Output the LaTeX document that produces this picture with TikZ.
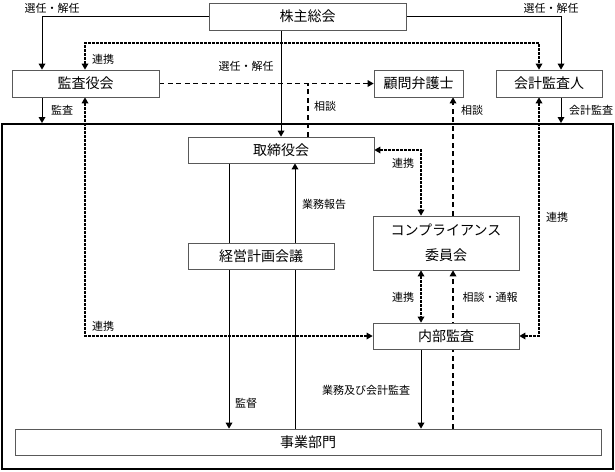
\documentclass[tikz,border=0pt]{standalone}
\usepackage{fontspec}
\newfontfamily\jp{Noto Sans CJK JP}
\usetikzlibrary{arrows.meta,backgrounds}
\begin{document}
\begin{tikzpicture}[x=1pt,y=-1pt,
  box/.style={draw=black!65, line width=0.8pt, fill=white, inner sep=0pt, font=\jp\fontsize{14}{16}\selectfont},
  lbl/.style={inner sep=0pt, font=\jp\fontsize{11}{13}\selectfont},
  solidline/.style={line width=1pt},
  dashline/.style={line width=1.4pt, dash pattern=on 5pt off 3.5pt},
  dotline/.style={line width=2.4pt, dash pattern=on 2.2pt off 1.8pt},
  both/.style={{Triangle[width=7pt,length=6pt,line width=0pt]}-{Triangle[width=7pt,length=6pt,line width=0pt]}},
  one/.style={-{Triangle[width=7pt,length=6pt,line width=0pt]}}]
\useasboundingbox (0,0) rectangle (615,471);
% column / row helpers
\coordinate (cA) at (42,0);
\coordinate (cB) at (85,0);
\coordinate (cC) at (229,0);
\coordinate (cD) at (281,0);
\coordinate (cE) at (295,0);
\coordinate (cF) at (308,0);
\coordinate (cG) at (421,0);
\coordinate (cH) at (453,0);
\coordinate (cI) at (539,0);
\coordinate (cJ) at (561,0);
\coordinate (r43) at (0,43);
% frame
\node[draw, line width=2pt, minimum width=611pt, minimum height=345pt, inner sep=0pt] (frame) at (307.5,296.5) {};
% boxes
\node[box, minimum width=197pt, minimum height=27pt] (kabu) at (307.5,16.5) {株主総会};
\node[box, minimum width=147pt, minimum height=27pt] (kansa) at (85.5,83.5) {監査役会};
\node[box, minimum width=89pt, minimum height=27pt] (bengo) at (418.5,83.5) {顧問弁護士};
\node[box, minimum width=106pt, minimum height=27pt] (kaikei) at (549,83.5) {会計監査人};
\node[box, minimum width=186pt, minimum height=26pt] (tori) at (281,150) {取締役会};
\node[box, minimum width=146pt, minimum height=26pt] (keiei) at (261,256) {経営計画会議};
\node[box, minimum width=146pt, minimum height=54pt, align=center, font=\jp\fontsize{14}{25}\selectfont] (comp) at (446,243) {コンプライアンス\\委員会};
\node[box, minimum width=146pt, minimum height=26pt] (naibu) at (446,336) {内部監査};
\node[box, minimum width=586pt, minimum height=26pt] (jigyo) at (308,442) {事業部門};
% labels
\node[lbl] (l1) at (52,8) {選任・解任};
\node[lbl] (l2) at (551,8) {選任・解任};
\node[lbl] (l3) at (246,66) {選任・解任};
\node[lbl] (l4) at (103,59) {連携};
\node[lbl] (l5) at (62,110) {監査};
\node[lbl] (l6) at (325,106) {相談};
\node[lbl] (l7) at (472,110) {相談};
\node[lbl] (l8) at (591,110) {会計監査};
\node[lbl] (l9) at (403,163) {連携};
\node[lbl] (l10) at (324,204) {業務報告};
\node[lbl] (l11) at (557,217) {連携};
\node[lbl] (l12) at (403,297) {連携};
\node[lbl] (l13) at (490,297) {相談・通報};
\node[lbl] (l14) at (103,326) {連携};
\node[lbl] (l15) at (366,390) {業務及び会計監査};
\node[lbl] (l16) at (246,403) {監督};
% connectors
\begin{scope}[on background layer]
\draw[solidline, one] (kabu.west) -| (kansa.north -| cA);
\draw[solidline, one] (kabu.east) -| (kaikei.north -| cJ);
\draw[solidline, one] (kabu.south -| cD) -- (tori.north -| cD);
\draw[solidline, one] (kansa.south -| cA) -- (frame.north -| cA);
\draw[solidline, one] (kaikei.south -| cJ) -- (frame.north -| cJ);
\draw[solidline, one] (tori.south -| cC) -- (jigyo.north -| cC);
\draw[solidline, one] (jigyo.north -| cE) -- (tori.south -| cE);
\draw[solidline, one] (naibu.south -| cG) -- (jigyo.north -| cG);
\draw[dotline, both] (kansa.north -| cB) -- (cB |- r43) -- (cI |- r43) -- (kaikei.north -| cI);
\draw[dotline, both] (tori.east) -| (comp.north -| cG);
\draw[dotline, both] (comp.south -| cG) -- (naibu.north -| cG);
\draw[dotline, both] (kansa.south -| cB) |- (naibu.west);
\draw[dotline, both] (kaikei.south -| cI) |- (naibu.east);
\draw[dashline, one] (kansa.east) -- (bengo.west);
\draw[dashline] (tori.north -| cF) -- (cF |- kansa.east);
\draw[dashline, one] (comp.north -| cH) -- (bengo.south -| cH);
\draw[dashline, one] (jigyo.north -| cH) -- (comp.south -| cH);
\end{scope}
\end{tikzpicture}
\end{document}
